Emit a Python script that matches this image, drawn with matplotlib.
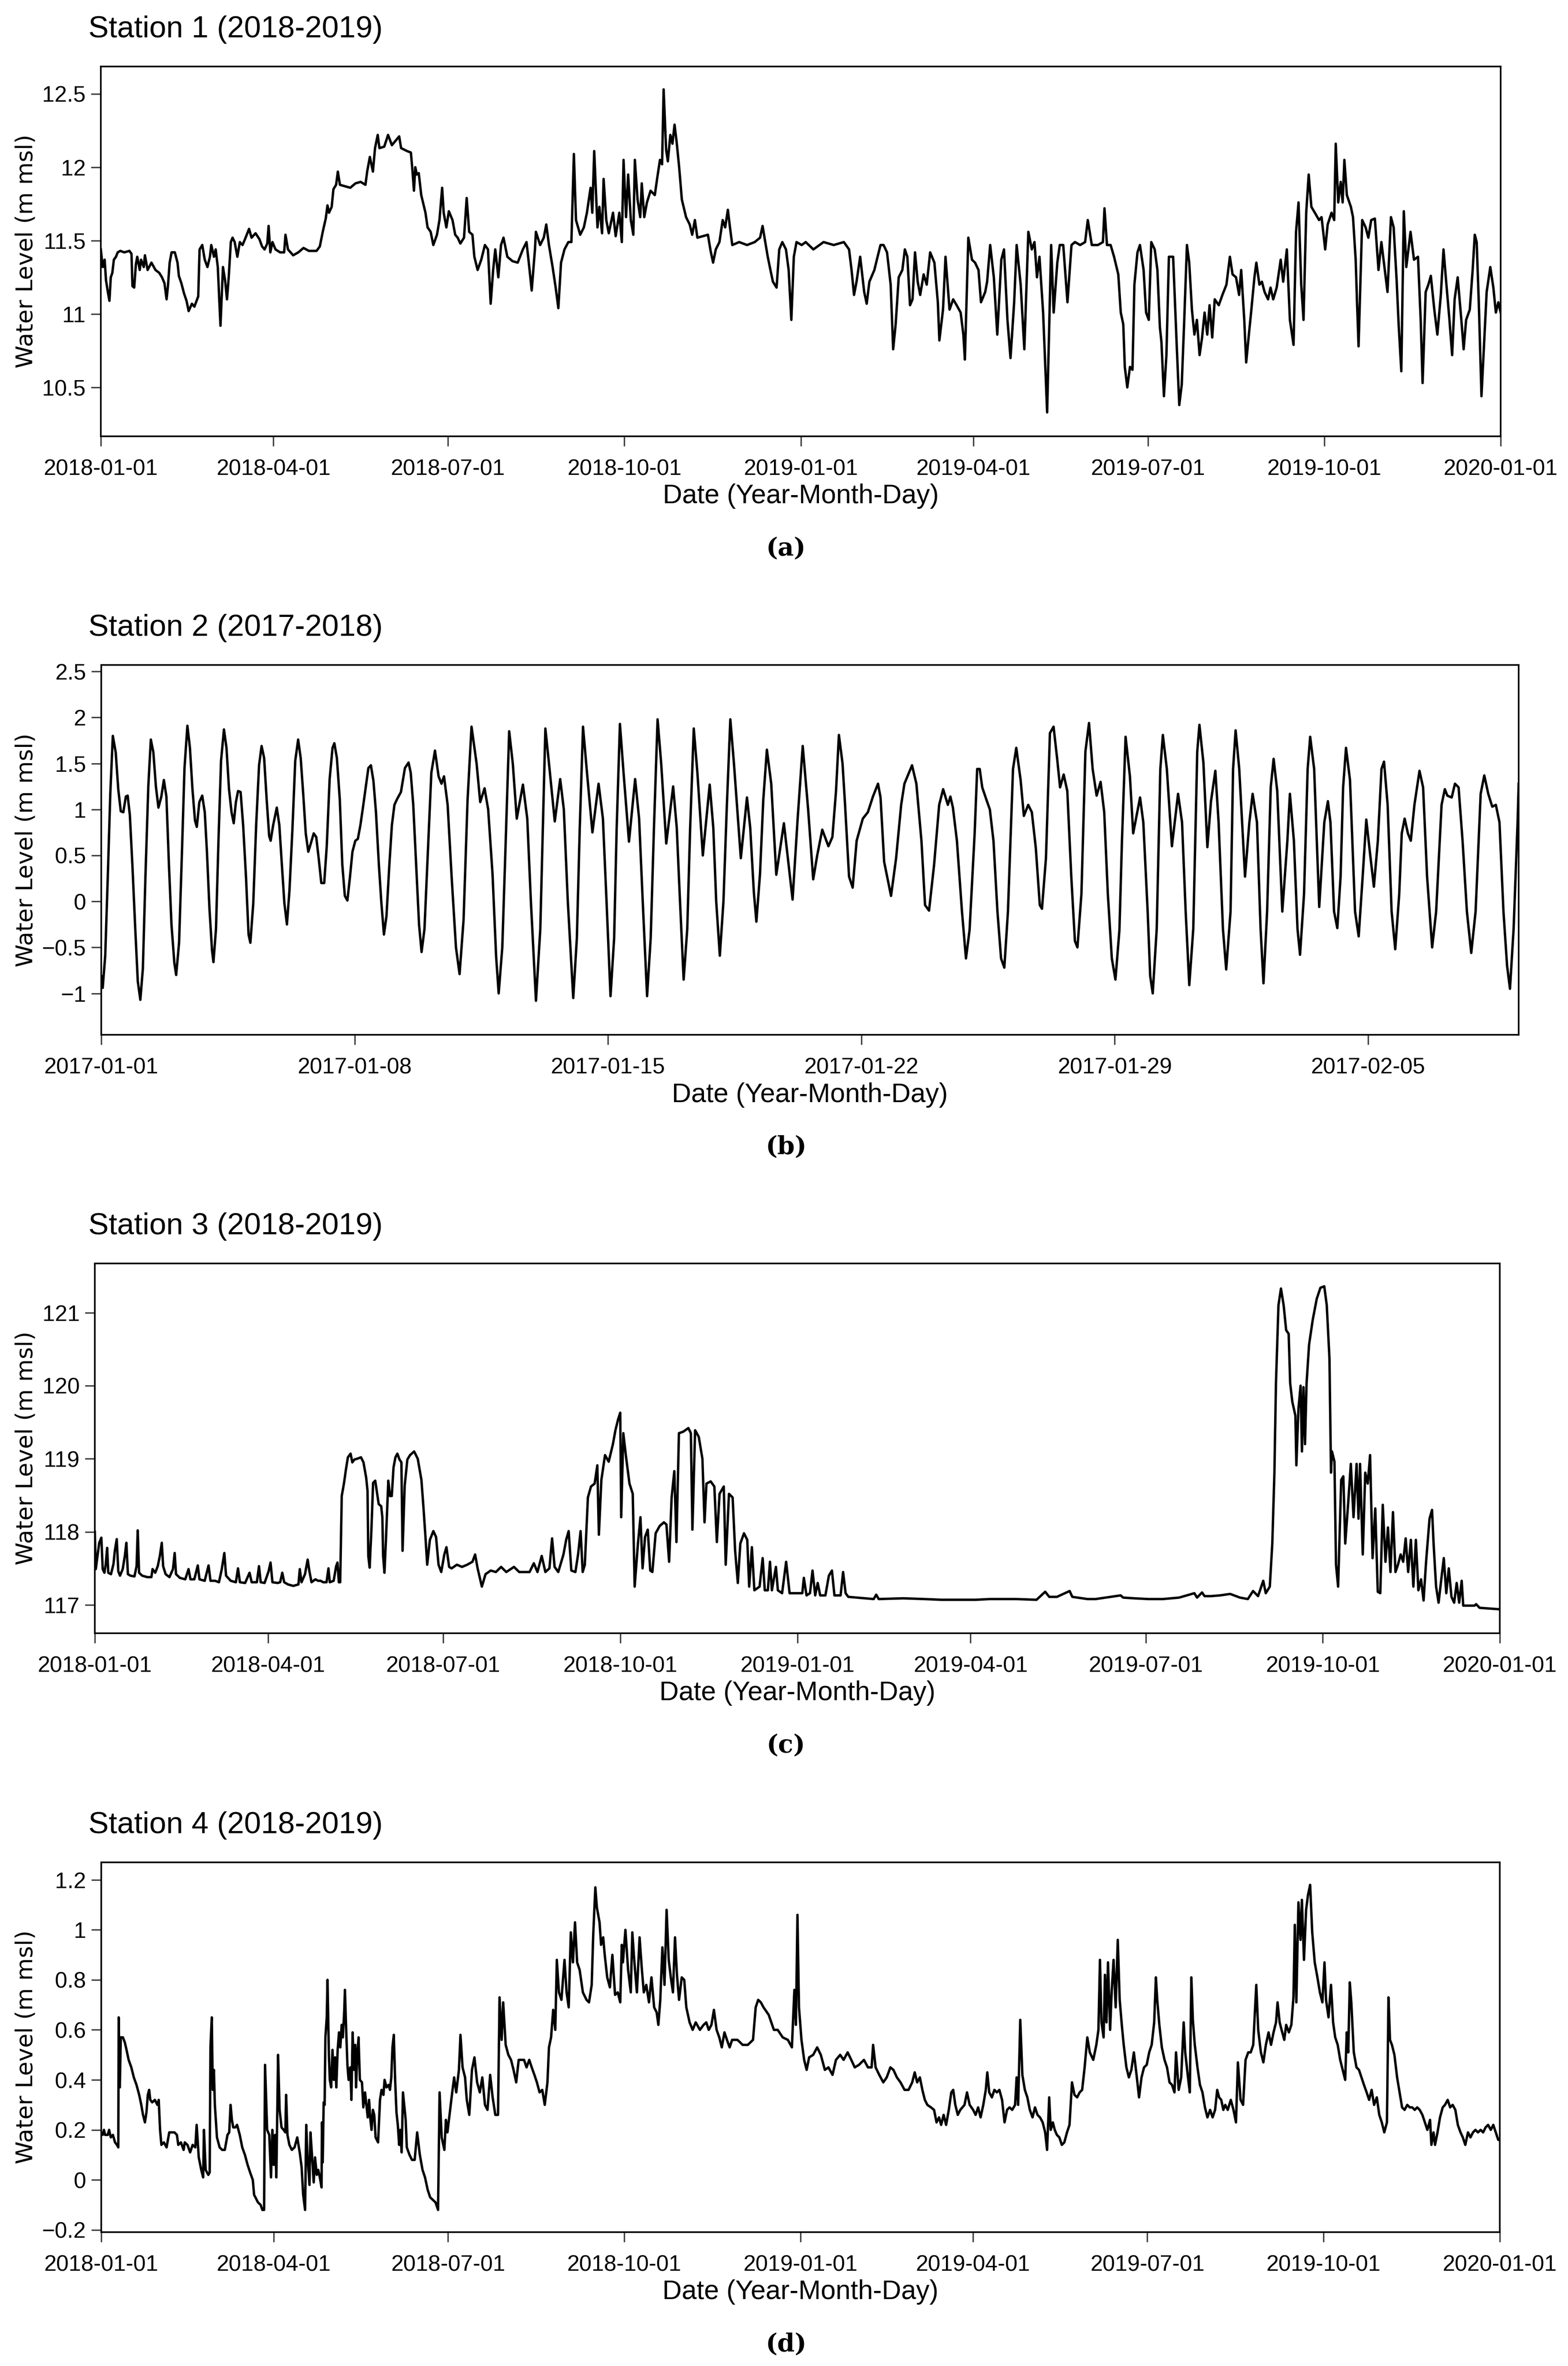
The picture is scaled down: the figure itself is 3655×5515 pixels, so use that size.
import pandas as pd
import matplotlib
matplotlib.use("Agg")
import matplotlib.pyplot as plt
import matplotlib.dates as mdates
from matplotlib.ticker import FuncFormatter

# values: day offset from the start date, water level in m msl

# Station 1 (2018-2019), start 2018-01-01
s1_day = [
    0, 1, 2, 2.7, 3.8, 4.5, 5.2, 6, 6.8, 7.9,
    8.8, 10.2, 12.2, 14.9, 16, 16.5, 17.4, 18.3, 19, 20.3,
    21, 22.4, 23, 24.4, 26.4, 28.5, 30.5, 31.9, 33.2, 34.3,
    35, 35.9, 36.9, 38.6, 40, 40.7, 42, 43.4, 44.7, 45.8,
    47.5, 48.8, 50.8, 51.5, 52.9, 54.2, 55.6, 56.9, 57.6, 59,
    59.9, 61, 62.4, 63.7, 64.8, 65.8, 66.7, 67.8, 68.7, 69.8,
    71.2, 72.5, 73.9, 75.2, 77.3, 78.6, 80.7, 82.7, 84.1, 85.4,
    86.8, 87.5, 88.4, 89.5, 91.1, 93.5, 95.6, 96.3, 97.6, 100.3,
    103, 105.7, 108.5, 112.5, 114.2, 115.9, 117.3, 118.2, 119, 120.4,
    121.3, 122.7, 123.6, 124.7, 127.4, 130.1, 132.8, 135.5, 138, 138.9,
    140.3, 141.9, 143, 144.4, 145.3, 147.8, 149.8, 151.8, 155.6, 156.6,
    159.7, 161.7, 162.5, 163.3, 164, 164.8, 165.8, 167.1, 169.3, 170.4,
    172, 173.4, 175.3, 176.6, 178, 178.8, 180.2, 181.5, 183.4, 184.8,
    186.1, 187.5, 189.4, 190.8, 192.1, 193.8, 194.8, 196.5, 198.4, 200.3,
    201.9, 203.3, 204.6, 205.7, 207.3, 208.7, 210, 212, 214.7, 217.4,
    220.1, 222, 223.6, 224.7, 226.4, 226.9, 229.1, 231, 232.3, 233.7,
    235.6, 237.2, 238.6, 240, 241.8, 243.8, 245.4, 246.7, 247.8, 250,
    251.9, 253.5, 255.4, 256.3, 257.3, 259, 260, 261.4, 262.2, 263.6,
    264.9, 267.1, 268.5, 270.4, 271.7, 272.6, 273.9, 275, 276.4, 277.7,
    278.5, 279.9, 281.3, 282.1, 283.4, 284.8, 286.7, 288.9, 290.2, 291.6,
    292.7, 293.5, 294.8, 295.7, 297, 298.1, 299.2, 300.3, 301.6, 303,
    305.2, 307.1, 308.4, 309.8, 311.1, 313.9, 316.6, 318, 319.3, 320.7,
    322.6, 324.3, 325.6, 327, 328.1, 329.3, 332.9, 337, 341, 343.8,
    345.1, 346.5, 347.8, 349.2, 350.5, 352.4, 353.8, 355.4, 357.3, 358.7,
    360.1, 361.4, 362.8, 365.5, 367.6, 371.6, 376.9, 382.2, 387.5, 390.2,
    391.5, 392.8, 394.1, 396, 398.1, 399.4, 400.8, 403.4, 404.7, 406.6,
    408.2, 410, 411.9, 413.2, 414.5, 416.1, 418, 419.3, 420.6, 422,
    423.3, 424.6, 426, 427.3, 429.1, 430.7, 432.5, 434.7, 436.5, 437.3,
    439.2, 440.5, 442.6, 444.5, 446.3, 448.4, 449.8, 450.6, 452.4, 454.3,
    455.9, 457.7, 459, 461.2, 462.2, 463.8, 465.7, 467.5, 469.6, 471,
    472.8, 474.4, 476.3, 477.6, 479.7, 481.6, 483.7, 485.5, 486.9, 488.2,
    489.5, 491.4, 493.5, 495.6, 496.9, 498.8, 500.1, 501.9, 504.1, 506.2,
    508, 510.7, 513.3, 514.7, 516.8, 520, 522.6, 523.4, 524.7, 526.6,
    528.4, 530.6, 531.9, 533.2, 534, 535.3, 536.7, 538, 539, 540.6,
    541.9, 543.8, 545.1, 546.5, 547.8, 549.6, 551, 552.3, 553.1, 554.4,
    555.7, 557, 559.2, 561, 562.4, 563.7, 565, 566.4, 567.6, 569,
    570.3, 571.6, 573, 574.3, 575.6, 577, 578.2, 579.6, 580.9, 583,
    584.9, 587, 588.8, 590.2, 592, 593.6, 594.7, 596.3, 597.3, 598.7,
    600, 601.6, 602.6, 604.2, 605.5, 606.9, 608.7, 610, 611.4, 613.2,
    615.3, 616.6, 618.5, 620.1, 622, 623.3, 624.6, 626, 627.2, 628.6,
    629.9, 631.3, 633.1, 635.3, 636.6, 638.5, 639.8, 641.8, 643.2, 644,
    645.3, 646.6, 647.6, 648.5, 649.8, 651.9, 653, 654.4, 655.1, 655.9,
    657.8, 659.6, 661, 662.5, 664.4, 666.3, 667.8, 669.6, 671, 672.8,
    674.2, 675.8, 676.8, 678.2, 679.5, 680.8, 683, 684.8, 686.9, 688.3,
    689.3, 690.9, 692.3, 693.6, 695.4, 697, 698.8, 700.2, 701.4, 703.3,
    704.7, 706, 707.6, 709.5, 710.7, 712, 713.9, 715.4, 716.5, 717.5,
    718.6, 720, 721.4, 722.7, 724.6, 726.2, 727.5, 728.8, 730,
]
s1_level = [
    11.44, 11.32, 11.37, 11.23, 11.14, 11.09, 11.25, 11.28, 11.37, 11.39,
    11.42, 11.43, 11.42, 11.43, 11.41, 11.19, 11.18, 11.34, 11.39, 11.30,
    11.37, 11.32, 11.40, 11.30, 11.35, 11.30, 11.28, 11.25, 11.21, 11.10,
    11.19, 11.35, 11.42, 11.42, 11.35, 11.26, 11.21, 11.14, 11.09, 11.02,
    11.07, 11.05, 11.12, 11.44, 11.47, 11.37, 11.32, 11.39, 11.47, 11.39,
    11.44, 11.32, 10.92, 11.32, 11.23, 11.10, 11.25, 11.49, 11.52, 11.49,
    11.39, 11.49, 11.47, 11.51, 11.58, 11.52, 11.55, 11.51, 11.46, 11.44,
    11.48, 11.60, 11.42, 11.49, 11.44, 11.42, 11.42, 11.54, 11.44, 11.40,
    11.42, 11.45, 11.43, 11.43, 11.46, 11.57, 11.65, 11.74, 11.69, 11.73,
    11.85, 11.88, 11.97, 11.88, 11.87, 11.86, 11.89, 11.90, 11.88, 11.97,
    12.07, 11.97, 12.13, 12.22, 12.13, 12.14, 12.22, 12.15, 12.21, 12.13,
    12.11, 12.10, 11.98, 11.84, 12.00, 11.95, 11.96, 11.81, 11.69, 11.59,
    11.56, 11.47, 11.54, 11.64, 11.86, 11.69, 11.59, 11.70, 11.64, 11.54,
    11.52, 11.48, 11.52, 11.79, 11.56, 11.54, 11.39, 11.30, 11.37, 11.47,
    11.44, 11.07, 11.30, 11.44, 11.25, 11.47, 11.52, 11.39, 11.36, 11.35,
    11.44, 11.49, 11.30, 11.16, 11.44, 11.56, 11.47, 11.52, 11.61, 11.47,
    11.32, 11.18, 11.04, 11.35, 11.44, 11.49, 11.49, 12.09, 11.64, 11.54,
    11.59, 11.69, 11.86, 11.69, 12.11, 11.59, 11.73, 11.55, 11.92, 11.64,
    11.55, 11.69, 11.53, 11.69, 11.49, 12.05, 11.66, 11.95, 11.64, 11.54,
    12.05, 11.78, 11.66, 11.89, 11.66, 11.76, 11.84, 11.81, 11.93, 12.05,
    12.02, 12.53, 12.12, 12.04, 12.22, 12.16, 12.29, 12.17, 12.00, 11.78,
    11.66, 11.61, 11.54, 11.64, 11.52, 11.53, 11.54, 11.43, 11.35, 11.44,
    11.49, 11.64, 11.59, 11.71, 11.59, 11.47, 11.49, 11.47, 11.49, 11.52,
    11.60, 11.49, 11.39, 11.30, 11.22, 11.18, 11.44, 11.49, 11.44, 11.30,
    10.96, 11.39, 11.49, 11.47, 11.49, 11.44, 11.49, 11.47, 11.49, 11.44,
    11.30, 11.13, 11.22, 11.39, 11.15, 11.07, 11.22, 11.30, 11.37, 11.47,
    11.47, 11.42, 11.20, 10.76, 10.93, 11.25, 11.30, 11.44, 11.39, 11.06,
    11.10, 11.42, 11.22, 11.13, 11.27, 11.20, 11.42, 11.35, 11.08, 10.82,
    11.03, 11.39, 11.03, 11.10, 11.06, 11.01, 10.86, 10.69, 11.52, 11.37,
    11.35, 11.30, 11.08, 11.15, 11.22, 11.47, 11.25, 10.86, 11.37, 11.44,
    10.96, 10.70, 11.08, 11.47, 11.20, 10.76, 11.56, 11.44, 11.49, 11.25,
    11.39, 11.01, 10.33, 11.47, 11.01, 11.35, 11.47, 11.47, 11.08, 11.47,
    11.49, 11.47, 11.49, 11.64, 11.47, 11.47, 11.49, 11.72, 11.47, 11.47,
    11.39, 11.27, 11.01, 10.93, 10.64, 10.50, 10.64, 10.62, 11.20, 11.42,
    11.47, 11.30, 11.01, 10.96, 11.49, 11.44, 11.30, 10.91, 10.81, 10.44,
    10.72, 11.39, 11.39, 10.81, 10.38, 10.52, 10.96, 11.47, 11.35, 11.03,
    10.86, 10.96, 10.72, 10.84, 11.01, 10.86, 11.06, 10.84, 11.10, 11.06,
    11.13, 11.20, 11.39, 11.27, 11.25, 11.13, 11.30, 10.96, 10.67, 10.86,
    11.03, 11.25, 11.35, 11.20, 11.22, 11.15, 11.10, 11.18, 11.10, 11.18,
    11.37, 11.22, 11.44, 10.96, 10.79, 11.56, 11.76, 11.20, 10.96, 11.69,
    11.95, 11.73, 11.69, 11.64, 11.66, 11.44, 11.61, 11.69, 11.64, 12.16,
    11.76, 11.90, 11.76, 12.05, 11.81, 11.73, 11.66, 11.37, 11.08, 10.78,
    11.64, 11.59, 11.52, 11.64, 11.65, 11.30, 11.49, 11.30, 11.15, 11.66,
    11.59, 11.22, 10.93, 10.61, 11.70, 11.32, 11.56, 11.37, 11.39, 10.96,
    10.53, 11.15, 11.20, 11.26, 11.03, 10.86, 11.13, 11.44, 11.25, 10.96,
    10.72, 11.10, 11.25, 10.96, 10.76, 10.96, 11.03, 11.30, 11.54, 11.49,
    11.08, 10.44, 10.81, 11.15, 11.32, 11.18, 11.01, 11.08, 11.01,
]

# Station 2 (2017-2018), start 2017-01-01
s2_day = [
    0, 0.04, 0.11, 0.18, 0.25, 0.32, 0.40, 0.47, 0.54, 0.61,
    0.68, 0.73, 0.79, 0.86, 0.94, 1.01, 1.08, 1.15, 1.22, 1.30,
    1.37, 1.44, 1.51, 1.58, 1.66, 1.73, 1.80, 1.87, 1.94, 2.02,
    2.07, 2.15, 2.23, 2.30, 2.38, 2.45, 2.52, 2.59, 2.64, 2.71,
    2.79, 2.86, 2.92, 2.99, 3.06, 3.10, 3.17, 3.24, 3.31, 3.39,
    3.46, 3.53, 3.60, 3.66, 3.72, 3.78, 3.85, 3.92, 4.00, 4.07,
    4.12, 4.20, 4.28, 4.36, 4.43, 4.50, 4.57, 4.64, 4.68, 4.75,
    4.85, 4.92, 4.99, 5.06, 5.13, 5.20, 5.28, 5.36, 5.44, 5.51,
    5.58, 5.65, 5.72, 5.79, 5.87, 5.94, 6.01, 6.08, 6.16, 6.23,
    6.31, 6.39, 6.44, 6.51, 6.59, 6.66, 6.73, 6.80, 6.87, 6.94,
    7.02, 7.09, 7.16, 7.23, 7.30, 7.38, 7.45, 7.52, 7.59, 7.67,
    7.74, 7.81, 7.88, 7.96, 8.03, 8.10, 8.17, 8.28, 8.39, 8.49,
    8.55, 8.62, 8.70, 8.78, 8.85, 8.93, 9.02, 9.12, 9.22, 9.32,
    9.40, 9.47, 9.57, 9.68, 9.80, 9.90, 10.01, 10.12, 10.23, 10.37,
    10.47, 10.59, 10.69, 10.81, 10.91, 10.98, 11.08, 11.17, 11.27, 11.37,
    11.48, 11.65, 11.77, 11.87, 12.01, 12.13, 12.20, 12.27, 12.37, 12.53,
    12.68, 12.78, 12.89, 13.04, 13.14, 13.22, 13.31, 13.42, 13.57, 13.74,
    13.86, 13.96, 14.07, 14.17, 14.24, 14.33, 14.43, 14.58, 14.75, 14.86,
    14.96, 15.08, 15.18, 15.27, 15.37, 15.47, 15.61, 15.80, 15.90, 15.99,
    16.09, 16.19, 16.27, 16.37, 16.47, 16.62, 16.81, 16.91, 16.99, 17.09,
    17.19, 17.28, 17.38, 17.48, 17.67, 17.84, 17.93, 18.03, 18.10, 18.20,
    18.29, 18.39, 18.51, 18.65, 18.86, 19.10, 19.24, 19.38, 19.53, 19.67,
    19.78, 19.92, 20.09, 20.20, 20.30, 20.38, 20.48, 20.55, 20.66, 20.76,
    20.87, 21.04, 21.18, 21.32, 21.46, 21.53, 21.63, 21.82, 21.96, 22.10,
    22.19, 22.40, 22.52, 22.66, 22.76, 22.87, 23.01, 23.15, 23.26, 23.39,
    23.46, 23.53, 23.64, 23.78, 23.89, 23.99, 24.13, 24.20, 24.27, 24.34,
    24.46, 24.55, 24.65, 24.76, 24.86, 24.95, 25.05, 25.19, 25.28, 25.40,
    25.49, 25.61, 25.71, 25.82, 25.93, 25.99, 26.10, 26.21, 26.31, 26.41,
    26.49, 26.59, 26.69, 26.80, 26.90, 26.97, 27.08, 27.19, 27.29, 27.39,
    27.50, 27.61, 27.71, 27.81, 27.92, 28.02, 28.13, 28.20, 28.30, 28.42,
    28.51, 28.70, 28.79, 28.91, 28.98, 29.05, 29.16, 29.26, 29.33, 29.44,
    29.58, 29.75, 29.86, 29.96, 30.06, 30.17, 30.28, 30.34, 30.45, 30.56,
    30.66, 30.78, 30.87, 30.99, 31.08, 31.20, 31.27, 31.34, 31.44, 31.60,
    31.72, 31.81, 31.93, 32.03, 32.11, 32.21, 32.31, 32.39, 32.49, 32.63,
    32.77, 32.84, 32.95, 33.05, 33.12, 33.23, 33.33, 33.40, 33.51, 33.65,
    33.79, 33.89, 33.96, 34.06, 34.15, 34.24, 34.31, 34.39, 34.50, 34.64,
    34.74, 34.85, 34.95, 35.06, 35.16, 35.27, 35.37, 35.44, 35.54, 35.65,
    35.75, 35.86, 35.93, 36.01, 36.10, 36.18, 36.28, 36.42, 36.52, 36.63,
    36.77, 36.88, 37.03, 37.12, 37.19, 37.31, 37.40, 37.50, 37.61, 37.73,
    37.85, 37.97, 38.11, 38.21, 38.32, 38.43, 38.53, 38.63, 38.74, 38.84,
    38.92, 39.02, 39.13, 39.16,
]
s2_level = [
    -0.81, -0.94, -0.59, 0.26, 1.17, 1.80, 1.62, 1.22, 0.98, 0.97,
    1.14, 1.15, 0.94, 0.40, -0.30, -0.87, -1.07, -0.73, 0.26, 1.25,
    1.76, 1.62, 1.25, 1.02, 1.14, 1.32, 1.14, 0.40, -0.25, -0.67,
    -0.80, -0.45, 0.54, 1.45, 1.91, 1.67, 1.22, 0.88, 0.81, 1.08,
    1.15, 0.97, 0.54, -0.08, -0.53, -0.66, -0.30, 0.68, 1.53, 1.87,
    1.67, 1.22, 0.97, 0.85, 1.08, 1.20, 1.19, 0.83, 0.26, -0.36,
    -0.45, -0.02, 0.83, 1.48, 1.69, 1.56, 1.11, 0.71, 0.66, 0.83,
    1.02, 0.83, 0.40, -0.02, -0.25, 0.12, 0.77, 1.53, 1.76, 1.56,
    1.17, 0.74, 0.54, 0.63, 0.74, 0.70, 0.46, 0.20, 0.20, 0.60,
    1.33, 1.67, 1.72, 1.56, 1.11, 0.40, 0.06, 0.01, 0.26, 0.54,
    0.66, 0.68, 0.83, 1.02, 1.22, 1.45, 1.48, 1.31, 0.97, 0.40,
    -0.02, -0.36, -0.16, 0.40, 0.83, 1.05, 1.11, 1.19, 1.45, 1.51,
    1.40, 1.05, 0.40, -0.25, -0.55, -0.30, 0.50, 1.40, 1.64, 1.36,
    1.28, 1.36, 1.05, 0.27, -0.50, -0.79, -0.20, 1.10, 1.90, 1.50,
    1.08, 1.23, 1.00, 0.30, -0.60, -1.00, -0.50, 0.60, 1.85, 1.50,
    0.90, 1.27, 0.90, 0.00, -1.08, -0.30, 0.80, 1.88, 1.50, 0.87,
    1.33, 1.00, 0.00, -1.05, -0.40, 0.80, 1.90, 1.40, 0.75, 1.28,
    0.90, 0.00, -1.03, -0.40, 0.80, 1.93, 1.40, 0.65, 1.33, 0.90,
    0.00, -1.03, -0.40, 0.80, 1.98, 1.50, 0.63, 1.25, 0.80, 0.00,
    -0.85, -0.30, 0.80, 1.88, 1.40, 0.50, 1.27, 0.80, 0.00, -0.59,
    0.00, 1.00, 1.98, 1.50, 0.47, 1.13, 0.80, 0.10, -0.22, 0.30,
    1.10, 1.65, 1.28, 0.29, 0.85, 0.02, 0.90, 1.69, 1.00, 0.24,
    0.50, 0.78, 0.60, 0.70, 1.20, 1.81, 1.50, 1.05, 0.27, 0.15,
    0.66, 0.90, 0.97, 1.14, 1.28, 1.13, 0.43, 0.06, 0.47, 1.05,
    1.28, 1.48, 1.28, 0.66, -0.04, -0.10, 0.40, 1.05, 1.22, 1.05,
    1.14, 1.02, 0.66, -0.11, -0.62, -0.31, 0.74, 1.44, 1.44, 1.24,
    1.10, 1.00, 0.66, -0.11, -0.62, -0.72, -0.11, 1.44, 1.67, 1.32,
    0.93, 1.05, 0.97, 0.58, -0.04, -0.08, 0.47, 1.83, 1.90, 1.55,
    1.24, 1.38, 1.20, 0.27, -0.43, -0.50, 0.08, 1.63, 1.94, 1.44,
    1.15, 1.30, 0.97, 0.08, -0.62, -0.85, -0.31, 0.66, 1.79, 1.36,
    0.74, 1.13, 0.86, -0.11, -0.81, -1.00, -0.30, 1.44, 1.81, 1.44,
    0.60, 1.17, 0.86, -0.11, -0.91, -0.30, 1.63, 1.92, 1.51, 0.59,
    1.09, 1.42, 0.86, -0.30, -0.74, -0.11, 1.44, 1.86, 1.44, 0.27,
    0.86, 1.17, 0.86, -0.30, -0.89, -0.11, 1.24, 1.55, 1.20, -0.11,
    0.66, 1.17, 0.66, -0.30, -0.58, 0.08, 1.44, 1.79, 1.44, -0.06,
    0.86, 1.09, 0.86, -0.11, -0.29, 0.27, 1.24, 1.67, 1.32, -0.11,
    -0.38, 0.27, 0.89, 0.50, 0.16, 0.66, 1.44, 1.52, 1.05, -0.11,
    -0.52, 0.08, 0.74, 0.90, 0.74, 0.66, 1.05, 1.42, 1.24, 0.27,
    -0.50, -0.11, 1.05, 1.22, 1.15, 1.13, 1.28, 1.24, 0.66, -0.11,
    -0.56, -0.11, 1.17, 1.37, 1.17, 1.03, 1.05, 0.86, -0.11, -0.70,
    -0.95, -0.30, 0.86, 1.28,
]

# Station 3 (2018-2019), start 2018-01-01
s3_day = [
    0, 0.5, 1.4, 2.3, 3.4, 4.1, 5, 5.7, 6.4, 7,
    8.4, 9.7, 10.4, 11.4, 12.2, 13.1, 14.5, 15.6, 16.4, 17.2,
    18.5, 20.6, 21.7, 22.3, 23, 24.6, 27.3, 29.4, 30, 31.4,
    32.7, 33.8, 34.8, 35.5, 36.8, 38.8, 40.6, 41.5, 42.2, 44.2,
    47, 48.7, 49.7, 51.7, 53.5, 54.4, 57.1, 59.1, 60.1, 62.5,
    64.5, 65.9, 67.3, 68.2, 70.6, 73.3, 74.4, 75.4, 78.1, 79.4,
    80.4, 81.5, 84.2, 85.3, 86.2, 88.2, 90.3, 91.3, 92.3, 95,
    96.3, 97.4, 98.4, 100.4, 103.1, 105.8, 106.5, 107.4, 109.2, 110.6,
    111.5, 112.6, 114.6, 116, 117.3, 118.7, 120.4, 121.4, 122.1, 124.1,
    125.4, 126.1, 126.8, 127.5, 128.3, 129.5, 130.4, 131.5, 132.9, 133.8,
    134.9, 136.3, 138.3, 139.6, 141, 141.7, 142.1, 142.8, 143.7, 144.6,
    145.7, 146.7, 147.5, 148.8, 149.4, 149.8, 150.5, 151.2, 152.5, 153.4,
    154.3, 155.2, 156.2, 157.2, 158.3, 159.3, 159.9, 161, 162.4, 163.8,
    165.9, 167.8, 169.7, 170.8, 171.9, 172.7, 174.1, 175.9, 177.3, 178.6,
    180, 181.6, 182.7, 184.1, 185.4, 188.1, 190.8, 193.5, 196.2, 197.6,
    198.9, 201.1, 203, 205.7, 208.4, 211.1, 213.8, 217.8, 220.5, 223.2,
    225.9, 228.1, 230, 232.2, 234.1, 236.2, 237.6, 238.9, 240.8, 243.5,
    244.9, 246.2, 247.6, 249.7, 251.1, 252.4, 253.5, 254.6, 256.2, 257.8,
    259.7, 261.1, 261.9, 263.2, 265.1, 267, 269.2, 270.5, 271.9, 273,
    273.5, 274.6, 275.9, 277.8, 279.5, 280.5, 282.2, 283.5, 284.6, 285.9,
    287.3, 288.6, 289.7, 291.4, 293.5, 295.7, 297, 298.4, 299.7, 301.1,
    302.2, 303.5, 305.7, 308.4, 309.7, 310.5, 311.9, 313.8, 315.7, 316.8,
    317.8, 320, 321.9, 323.2, 324.6, 326.8, 327.8, 329.5, 331.4, 332.7,
    334.1, 335.4, 337.3, 339, 340, 341.4, 342.7, 345.4, 347, 348.1,
    349.7, 350.8, 351.8, 353.9, 354.9, 357.1, 359.2, 361, 363.7, 367.6,
    368.4, 369.8, 371.6, 372.9, 374.3, 375.6, 376.9, 379.6, 381.4, 383,
    384.3, 387.5, 388.8, 390.1, 391.5, 404.7, 406, 407.3, 420, 431.1,
    440, 457.6, 465, 478.8, 489.3, 493.8, 495.9, 499.9, 506.5, 507.9,
    515.8, 520, 533, 534.3, 540, 547.5, 555, 563.4, 571.3, 572.7,
    575.3, 576.6, 580, 584.6, 589.9, 595, 599.1, 601.8, 604.4, 607.1,
    608.4, 610.5, 611.8, 612.9, 613.7, 615, 616.3, 617.7, 619, 620.3,
    621.1, 622.2, 623.8, 624.3, 625.4, 626.5, 627.2, 628, 628.8, 629.6,
    630.9, 632.8, 634.9, 636.8, 638.8, 640.1, 641.5, 642.3, 642.8, 644.1,
    644.9, 646, 647.6, 648.7, 649.7, 651.3, 652.6, 654, 655.6, 656.6,
    657.4, 658.8, 660.1, 661.4, 662.6, 663.9, 665.3, 666.6, 667.9, 669.2,
    670.6, 671.9, 673.2, 674.5, 675.8, 677.1, 678.5, 679.8, 681.1, 682.4,
    683.8, 685.1, 686.4, 687.7, 689.1, 690.4, 691.7, 693.5, 694.8, 695.6,
    696.9, 698.2, 699.6, 700.9, 702.2, 703.5, 704.9, 706.3, 707.6, 708.9,
    710.2, 711, 714.2, 716.9, 717.7, 719.5, 724.8, 730,
]
s3_level = [
    118.00, 117.49, 117.67, 117.85, 117.92, 117.49, 117.44, 117.56, 117.78, 117.44,
    117.42, 117.56, 117.74, 117.90, 117.46, 117.40, 117.49, 117.67, 117.85, 117.42,
    117.40, 117.39, 117.53, 118.02, 117.44, 117.40, 117.38, 117.38, 117.49, 117.44,
    117.53, 117.67, 117.85, 117.53, 117.42, 117.38, 117.49, 117.71, 117.42, 117.37,
    117.35, 117.49, 117.35, 117.35, 117.54, 117.35, 117.33, 117.54, 117.33, 117.33,
    117.31, 117.48, 117.71, 117.40, 117.33, 117.31, 117.50, 117.31, 117.30, 117.38,
    117.44, 117.31, 117.31, 117.53, 117.31, 117.30, 117.46, 117.58, 117.31, 117.30,
    117.31, 117.44, 117.31, 117.28, 117.26, 117.28, 117.49, 117.31, 117.42, 117.62,
    117.46, 117.31, 117.35, 117.33, 117.33, 117.31, 117.31, 117.50, 117.31, 117.33,
    117.53, 117.58, 117.31, 117.31, 118.49, 118.67, 118.84, 119.02, 119.07, 118.95,
    118.99, 119.00, 119.02, 118.95, 118.74, 118.56, 117.67, 117.51, 118.02, 118.67,
    118.70, 118.52, 118.38, 118.35, 118.20, 117.67, 117.44, 117.85, 118.70, 118.49,
    118.49, 118.88, 119.02, 119.07, 118.99, 118.95, 117.74, 118.63, 118.99, 119.05,
    119.10, 119.00, 118.71, 118.32, 117.89, 117.55, 117.89, 118.01, 117.93, 117.55,
    117.45, 117.69, 117.79, 117.52, 117.50, 117.55, 117.52, 117.55, 117.59, 117.69,
    117.50, 117.25, 117.42, 117.47, 117.45, 117.52, 117.45, 117.52, 117.45, 117.45,
    117.45, 117.57, 117.45, 117.67, 117.45, 117.50, 117.91, 117.52, 117.45, 117.69,
    117.89, 118.01, 117.47, 117.45, 117.69, 118.01, 117.45, 117.55, 118.47, 118.62,
    118.66, 118.91, 117.96, 118.71, 119.05, 118.96, 119.20, 119.39, 119.54, 119.63,
    118.20, 119.35, 119.05, 118.66, 118.52, 117.25, 117.84, 118.20, 117.50, 117.93,
    118.03, 117.47, 117.45, 117.98, 118.08, 118.13, 118.10, 117.59, 118.47, 118.83,
    117.86, 119.35, 119.37, 119.42, 119.35, 118.03, 119.39, 119.30, 119.00, 118.13,
    118.66, 118.69, 118.62, 117.86, 118.52, 118.62, 117.55, 118.52, 118.47, 117.74,
    117.30, 117.84, 117.98, 117.89, 117.25, 117.79, 117.20, 117.25, 117.64, 117.20,
    117.20, 117.59, 117.20, 117.52, 117.20, 117.16, 117.59, 117.16, 117.16, 117.16,
    117.37, 117.13, 117.16, 117.47, 117.13, 117.30, 117.13, 117.13, 117.40, 117.47,
    117.13, 117.13, 117.45, 117.16, 117.11, 117.08, 117.14, 117.08, 117.09, 117.08,
    117.07, 117.07, 117.08, 117.08, 117.07, 117.18, 117.11, 117.11, 117.19, 117.11,
    117.08, 117.08, 117.13, 117.10, 117.09, 117.08, 117.08, 117.10, 117.16, 117.10,
    117.17, 117.12, 117.12, 117.13, 117.15, 117.10, 117.08, 117.19, 117.12, 117.33,
    117.16, 117.25, 117.84, 118.81, 120.03, 121.10, 121.33, 121.10, 120.76, 120.71,
    120.03, 119.78, 119.59, 118.91, 119.69, 120.00, 119.10, 119.98, 119.20, 120.03,
    120.56, 120.90, 121.19, 121.34, 121.36, 121.10, 120.37, 118.81, 119.10, 118.96,
    117.55, 117.25, 118.71, 118.76, 117.84, 118.42, 118.93, 118.20, 118.93, 118.18,
    118.93, 117.69, 118.81, 118.66, 119.05, 117.64, 118.32, 117.18, 117.16, 118.37,
    117.59, 118.06, 117.45, 118.27, 117.45, 117.55, 117.69, 117.59, 117.91, 117.45,
    117.89, 117.25, 117.89, 117.20, 117.35, 117.06, 117.59, 118.18, 118.30, 117.84,
    117.25, 117.03, 117.35, 117.64, 117.16, 117.50, 117.11, 117.03, 117.30, 117.03,
    117.33, 116.99, 116.99, 116.99, 117.01, 116.96, 116.95, 116.94,
]

# Station 4 (2018-2019), start 2018-01-01
s4_day = [
    0, 0.7, 1.4, 2, 2.7, 3.4, 4.1, 5, 6.1, 7.2,
    8.2, 8.9, 9.1, 9.7, 10.2, 11.3, 12.3, 13.2, 14.3, 15.7,
    17, 18.4, 19.8, 20.9, 21.8, 22.8, 23.6, 24.3, 25, 25.6,
    26.6, 28, 29.3, 30, 30.7, 31.4, 32.7, 34.1, 35.5, 36.8,
    38.2, 39.5, 40.2, 41.6, 43, 43.6, 45, 46.4, 47.7, 49.1,
    49.8, 50.9, 52.2, 53.2, 53.6, 54.5, 55.9, 56.6, 57, 57.7,
    58.2, 58.8, 59.3, 60.4, 61.8, 63.1, 64.5, 65.9, 66.8, 67.5,
    68.2, 68.9, 70, 70.9, 72.3, 73.6, 75, 76.4, 77.7, 79.1,
    79.8, 80.5, 81.8, 83.2, 84.1, 85, 85.5, 86.6, 87.7, 88.6,
    89.3, 90, 90.7, 91.4, 92.3, 93.1, 94.1, 95.2, 96.1, 96.5,
    97.2, 98.2, 99.5, 100.9, 102.3, 103.6, 104.6, 105.4, 106.4, 107,
    107.7, 108.7, 109.2, 110, 110.9, 111.6, 112.5, 113.3, 114.1, 115,
    115.2, 115.6, 116.1, 116.6, 117, 117.7, 118.1, 118.8, 119.3, 120,
    120.7, 121.4, 122.1, 122.7, 123.4, 124.1, 124.8, 125.5, 126.1, 126.8,
    127.2, 127.8, 128.5, 129.1, 130, 130.6, 131.2, 131.9, 132.6, 133,
    133.6, 134.3, 135, 136.1, 136.8, 137.7, 138.4, 139.1, 139.8, 140.5,
    141.1, 141.8, 142.5, 143.2, 144.5, 145.5, 146.3, 147.3, 147.9, 148.9,
    150, 150.7, 151.4, 152, 152.7, 153.4, 154.1, 154.8, 155.5, 156.1,
    156.8, 157.5, 158.9, 159.5, 160.9, 162.2, 163.6, 164.9, 166.3, 167.7,
    169, 170.4, 171.7, 173.1, 174.5, 175.8, 176.6, 177.7, 179.1, 179.9,
    180.7, 182.1, 183.2, 184.2, 185.3, 186.7, 187.5, 188.6, 189.9, 190.8,
    192.1, 193.5, 194.8, 196.2, 197.6, 198.9, 200.3, 201.6, 203, 204.3,
    205.7, 207.1, 207.9, 209, 209.8, 211.1, 212.5, 213.9, 215.2, 216.6,
    217.9, 220.7, 222, 223.4, 224.7, 226.1, 227.4, 228.8, 230.2, 231.5,
    232.9, 233.7, 234.8, 235.9, 237, 237.8, 238.9, 240.2, 241.8, 242.9,
    244, 245.1, 246.2, 247.3, 248.4, 249.7, 251.4, 253.3, 254.6, 256,
    256.8, 257.9, 258.7, 260.1, 260.9, 262, 262.8, 264.1, 265.5, 266.8,
    268.2, 269.6, 270.9, 271.7, 272.3, 273.6, 275, 276.4, 277.2, 278.3,
    279.6, 281, 282.1, 283.2, 284.5, 285.9, 287.2, 288.6, 289.9, 290.8,
    291.8, 292.9, 294, 295.1, 296.2, 297.3, 298.4, 299.5, 300.5, 301.6,
    303, 304.3, 305.4, 307.1, 308.7, 310.3, 312.5, 314.4, 315.8, 317.1,
    318.5, 319.8, 321.2, 322.6, 323.9, 325.3, 326.6, 328, 329.3, 332.1,
    334.8, 337.5, 340.2, 341.6, 342.9, 344.3, 345.7, 348.4, 351.1, 353.1,
    355.7, 358.4, 360.5, 361.8, 362.6, 363.4, 364.2, 365.5, 366.9, 368.2,
    369.5, 371.6, 373.7, 375.6, 377.7, 379.6, 381.7, 383.5, 385.7, 387.5,
    389.6, 391.5, 393.3, 395.5, 398.1, 400.2, 402.1, 402.9, 404.2, 406.1,
    408.2, 410, 411.9, 413.5, 415.3, 417.2, 419.3, 421.4, 423.3, 424.6,
    425.9, 427.3, 428.6, 429.9, 431.2, 433.1, 434.7, 436, 437.3, 438.4,
    439.7, 441, 442.4, 443.7, 444.7, 445.8, 447.1, 448.4, 450.6, 451.9,
    453.3, 455.1, 456.4, 457.7, 459, 460.4, 461.7, 462.5, 463.5, 464.9,
    466.2, 467.5, 468.8, 470.2, 471.5, 472.8, 474.1, 475.5, 477, 477.8,
    478.6, 479.7, 480.8, 482.1, 483.4, 484.7, 486.1, 487.4, 488.7, 490,
    491.4, 492.7, 493.7, 494.8, 495.6, 496.7, 497.7, 498.8, 500.1, 501.4,
    502.7, 504.1, 505.4, 506.7, 508, 509.4, 510.7, 512, 513.3, 514.7,
    516, 517.8, 519.4, 520.5, 521.3, 522.1, 523.2, 523.9, 524.7, 525.5,
    526.6, 527.4, 528.4, 529.5, 530.6, 531.6, 532.7, 533.7, 535.1, 536.4,
    537.7, 539, 540.4, 541.7, 543, 544.3, 545.7, 547, 548.3, 549.6,
    550.5, 551.2, 552.3, 553.6, 555, 556.3, 557.6, 558.9, 560.2, 561,
    562.4, 563.7, 565, 565.8, 567.1, 568.2, 569, 569.8, 570.8, 572.2,
    573.5, 574.8, 576.1, 577.4, 578.8, 580.1, 581.4, 582.5, 583.5, 584.6,
    585.7, 586.7, 588, 589.6, 591, 592.3, 593.3, 594.7, 596, 597.3,
    598.7, 600, 601.3, 602.1, 602.9, 603.9, 605.3, 606.6, 607.9, 609.3,
    610.6, 611.9, 613.2, 614, 615.1, 616.1, 617.5, 618.5, 619.9, 621.2,
    622.3, 623, 623.8, 624.9, 626, 626.7, 627.8, 628.9, 629.9, 631,
    632.1, 633.4, 634.8, 636.1, 637.4, 638.5, 639.3, 640.6, 641.9, 643,
    644.1, 645.4, 646.7, 648, 649.3, 650.1, 650.9, 651.7, 652.5, 653.8,
    655.2, 656.5, 657.8, 659.1, 660.5, 661.8, 663.1, 664.4, 665.8, 667.1,
    668.4, 669.7, 671.1, 671.9, 672.7, 673.7, 675, 676.4, 677.7, 679,
    680.3, 681.7, 683, 684.3, 685.6, 686.9, 688.2, 689.6, 690.9, 692.2,
    693.6, 694.3, 695.4, 696.2, 697.5, 698.8, 700.2, 701.4, 702.8, 704.1,
    705.4, 706.8, 708.1, 709.5, 710.7, 712, 713.4, 714.7, 716, 717.3,
    718.6, 720, 721.3, 722.6, 723.9, 725.3, 726.6, 727.9, 729.2, 730,
]
s4_level = [
    0.18, 0.18, 0.20, 0.18, 0.18, 0.18, 0.20, 0.17, 0.18, 0.15,
    0.14, 0.13, 0.65, 0.37, 0.57, 0.57, 0.55, 0.52, 0.48, 0.45,
    0.41, 0.38, 0.34, 0.30, 0.26, 0.23, 0.27, 0.34, 0.36, 0.32,
    0.31, 0.32, 0.30, 0.32, 0.20, 0.14, 0.15, 0.13, 0.19, 0.19,
    0.19, 0.18, 0.14, 0.15, 0.12, 0.15, 0.14, 0.11, 0.14, 0.13,
    0.22, 0.09, 0.04, 0.01, 0.20, 0.04, 0.02, 0.03, 0.53, 0.65,
    0.36, 0.44, 0.30, 0.17, 0.13, 0.12, 0.12, 0.18, 0.19, 0.30,
    0.24, 0.21, 0.21, 0.22, 0.18, 0.13, 0.10, 0.06, 0.03, 0.00,
    -0.06, -0.07, -0.09, -0.10, -0.12, -0.12, 0.46, 0.20, 0.18, 0.01,
    0.20, 0.06, 0.18, 0.01, 0.50, 0.28, 0.21, 0.20, 0.19, 0.34,
    0.18, 0.14, 0.12, 0.13, 0.17, 0.11, 0.05, -0.06, -0.12, 0.22,
    0.09, -0.02, 0.19, 0.10, -0.01, 0.09, 0.02, 0.04, 0.01, -0.03,
    0.23, 0.07, 0.31, 0.30, 0.57, 0.65, 0.80, 0.51, 0.40, 0.37,
    0.52, 0.40, 0.49, 0.37, 0.52, 0.59, 0.53, 0.62, 0.57, 0.67,
    0.76, 0.61, 0.46, 0.40, 0.45, 0.32, 0.59, 0.44, 0.54, 0.37,
    0.49, 0.57, 0.40, 0.39, 0.29, 0.35, 0.30, 0.25, 0.32, 0.24,
    0.20, 0.28, 0.26, 0.17, 0.15, 0.32, 0.36, 0.34, 0.40, 0.37,
    0.38, 0.36, 0.41, 0.53, 0.58, 0.40, 0.27, 0.22, 0.14, 0.20,
    0.11, 0.35, 0.24, 0.13, 0.10, 0.08, 0.08, 0.19, 0.10, 0.04,
    0.01, -0.04, -0.07, -0.08, -0.09, -0.12, 0.35, 0.17, 0.12, 0.24,
    0.19, 0.28, 0.35, 0.41, 0.35, 0.44, 0.58, 0.45, 0.41, 0.32,
    0.26, 0.44, 0.49, 0.39, 0.35, 0.41, 0.30, 0.28, 0.42, 0.33,
    0.26, 0.26, 0.73, 0.56, 0.71, 0.54, 0.50, 0.48, 0.44, 0.39,
    0.48, 0.48, 0.45, 0.48, 0.45, 0.42, 0.39, 0.35, 0.36, 0.30,
    0.39, 0.53, 0.57, 0.68, 0.60, 0.88, 0.75, 0.72, 0.88, 0.75,
    0.69, 0.99, 0.87, 1.03, 0.87, 0.84, 0.75, 0.72, 0.71, 0.78,
    0.98, 1.17, 1.09, 1.03, 0.94, 0.97, 0.90, 0.81, 0.77, 0.90,
    0.74, 0.75, 0.71, 0.94, 0.87, 1.00, 0.84, 0.75, 0.99, 0.87,
    0.75, 0.97, 0.85, 0.75, 0.78, 0.71, 0.81, 0.69, 0.67, 0.62,
    0.72, 0.93, 0.78, 1.08, 0.88, 0.81, 0.75, 0.97, 0.82, 0.72,
    0.81, 0.80, 0.69, 0.63, 0.60, 0.63, 0.60, 0.62, 0.63, 0.60,
    0.62, 0.68, 0.60, 0.57, 0.53, 0.59, 0.56, 0.53, 0.56, 0.56,
    0.54, 0.54, 0.56, 0.69, 0.72, 0.71, 0.69, 0.66, 0.60, 0.60,
    0.57, 0.56, 0.53, 0.76, 0.62, 1.06, 0.69, 0.56, 0.48, 0.44,
    0.49, 0.50, 0.53, 0.50, 0.44, 0.45, 0.42, 0.48, 0.50, 0.48,
    0.51, 0.48, 0.45, 0.46, 0.48, 0.45, 0.45, 0.54, 0.45, 0.42,
    0.39, 0.41, 0.45, 0.44, 0.41, 0.39, 0.36, 0.36, 0.39, 0.43,
    0.39, 0.41, 0.36, 0.32, 0.30, 0.29, 0.28, 0.23, 0.25, 0.22,
    0.26, 0.22, 0.28, 0.35, 0.36, 0.30, 0.26, 0.28, 0.30, 0.35,
    0.30, 0.28, 0.26, 0.29, 0.25, 0.30, 0.36, 0.43, 0.35, 0.33,
    0.36, 0.35, 0.36, 0.32, 0.23, 0.28, 0.29, 0.28, 0.30, 0.41,
    0.30, 0.64, 0.42, 0.36, 0.33, 0.28, 0.25, 0.29, 0.26, 0.25,
    0.23, 0.19, 0.12, 0.33, 0.20, 0.23, 0.20, 0.18, 0.17, 0.14,
    0.15, 0.19, 0.22, 0.39, 0.34, 0.33, 0.35, 0.36, 0.45, 0.57,
    0.51, 0.48, 0.54, 0.60, 0.88, 0.63, 0.57, 0.82, 0.63, 0.87,
    0.60, 0.75, 0.88, 0.69, 0.96, 0.72, 0.62, 0.54, 0.45, 0.41,
    0.44, 0.51, 0.42, 0.33, 0.41, 0.45, 0.46, 0.51, 0.54, 0.63,
    0.81, 0.72, 0.62, 0.53, 0.48, 0.45, 0.39, 0.38, 0.35, 0.51,
    0.36, 0.41, 0.63, 0.51, 0.42, 0.35, 0.81, 0.64, 0.54, 0.45,
    0.38, 0.35, 0.29, 0.25, 0.28, 0.25, 0.28, 0.36, 0.33, 0.32,
    0.28, 0.30, 0.28, 0.32, 0.28, 0.23, 0.47, 0.32, 0.30, 0.48,
    0.51, 0.51, 0.54, 0.66, 0.78, 0.60, 0.51, 0.47, 0.54, 0.59,
    0.54, 0.59, 0.63, 0.71, 0.63, 0.60, 0.56, 0.62, 0.59, 0.62,
    0.73, 1.02, 0.71, 1.11, 0.96, 1.12, 0.88, 1.08, 1.14, 1.18,
    0.99, 0.87, 0.81, 0.75, 0.71, 0.87, 0.72, 0.65, 0.78, 0.63,
    0.57, 0.54, 0.48, 0.44, 0.40, 0.59, 0.51, 0.79, 0.71, 0.51,
    0.45, 0.44, 0.41, 0.38, 0.35, 0.32, 0.36, 0.30, 0.33, 0.26,
    0.23, 0.19, 0.23, 0.73, 0.56, 0.54, 0.50, 0.41, 0.35, 0.29,
    0.28, 0.30, 0.29, 0.29, 0.28, 0.29, 0.28, 0.26, 0.23, 0.20,
    0.24, 0.14, 0.19, 0.14, 0.19, 0.25, 0.29, 0.30, 0.32, 0.29,
    0.30, 0.28, 0.22, 0.19, 0.17, 0.14, 0.19, 0.17, 0.19, 0.20,
    0.19, 0.20, 0.19, 0.21, 0.22, 0.20, 0.22, 0.19, 0.16, 0.16,
]

station_titles = ["Station 1 (2018-2019)", "Station 2 (2017-2018)",
                  "Station 3 (2018-2019)", "Station 4 (2018-2019)"]
start_dates = ["2018-01-01", "2017-01-01", "2018-01-01", "2018-01-01"]
captions = ["(a)", "(b)", "(c)", "(d)"]
year_ticks = ["2018-01-01", "2018-04-01", "2018-07-01", "2018-10-01", "2019-01-01",
              "2019-04-01", "2019-07-01", "2019-10-01", "2020-01-01"]
week_ticks = ["2017-01-01", "2017-01-08", "2017-01-15", "2017-01-22", "2017-01-29", "2017-02-05"]

days = [s1_day, s2_day, s3_day, s4_day]
levels = [s1_level, s2_level, s3_level, s4_level]
for d, l in zip(days, levels):
    assert len(d) == len(l), (len(d), len(l))

plt.rcParams['font.family'] = 'Liberation Sans'

W, H = 3655, 5515
fig = plt.figure(figsize=(W / 300, H / 300), dpi=300)

# axes boxes in pixels: left, top, right, bottom
boxes = [(235, 155, 3498, 1017), (236, 1550, 3540, 2412),
         (221, 2945, 3496, 3807), (236, 4341, 3496, 5203)]
ylims = [(10.167, 12.686), (-1.45, 2.571), (116.612, 121.673), (-0.209, 1.27)]
yticks = [[10.5, 11, 11.5, 12, 12.5], [-1, -0.5, 0, 0.5, 1, 1.5, 2, 2.5],
          [117, 118, 119, 120, 121], [-0.2, 0, 0.2, 0.4, 0.6, 0.8, 1, 1.2]]


def ylab(v, pos):
    return ('%g' % round(v, 3)).replace('-', '\u2212')


for i in range(4):
    left, top, right, bottom = boxes[i]
    ax = fig.add_axes([left / W, 1 - bottom / H, (right - left) / W, (bottom - top) / H])
    t0 = pd.Timestamp(start_dates[i])
    x = t0 + pd.to_timedelta(days[i], unit='D')
    ax.plot(x, levels[i], color='black', lw=1.35, solid_joinstyle='round')

    if i == 1:
        ax.set_xlim(x[0], x[-1])
        ax.set_xticks([pd.Timestamp(t) for t in week_ticks])
    else:
        ax.set_xlim(pd.Timestamp('2018-01-01'), pd.Timestamp('2020-01-01'))
        ax.set_xticks([pd.Timestamp(t) for t in year_ticks])
    ax.xaxis.set_major_formatter(mdates.DateFormatter('%Y-%m-%d'))
    ax.set_ylim(*ylims[i])
    ax.set_yticks(yticks[i])
    ax.yaxis.set_major_formatter(FuncFormatter(ylab))

    for s in ax.spines.values():
        s.set_linewidth(0.9)
    ax.tick_params(direction='out', length=5.5, width=0.8, color='#404040', labelsize=12.5)
    ax.tick_params(axis='x', pad=7)
    ax.tick_params(axis='y', pad=3)

    mid = (left + right) / 2
    fig.text(206 / W, 1 - (top - 86) / H, station_titles[i], fontsize=17, va='center', ha='left')
    fig.text(61 / W, 1 - (top + bottom) / 2 / H, 'Water Level (m msl)', family='DejaVu Sans',
             fontsize=13, rotation=90, va='center', ha='center')
    fig.text(mid / W, 1 - (bottom + 140) / H, 'Date (Year-Month-Day)', fontsize=15,
             va='center', ha='center')
    fig.text(1832 / W, 1 - (bottom + 262) / H, captions[i], family='DejaVu Serif',
             fontweight='bold', fontsize=14, va='center', ha='center')

fig.savefig('out.png', dpi=300)
